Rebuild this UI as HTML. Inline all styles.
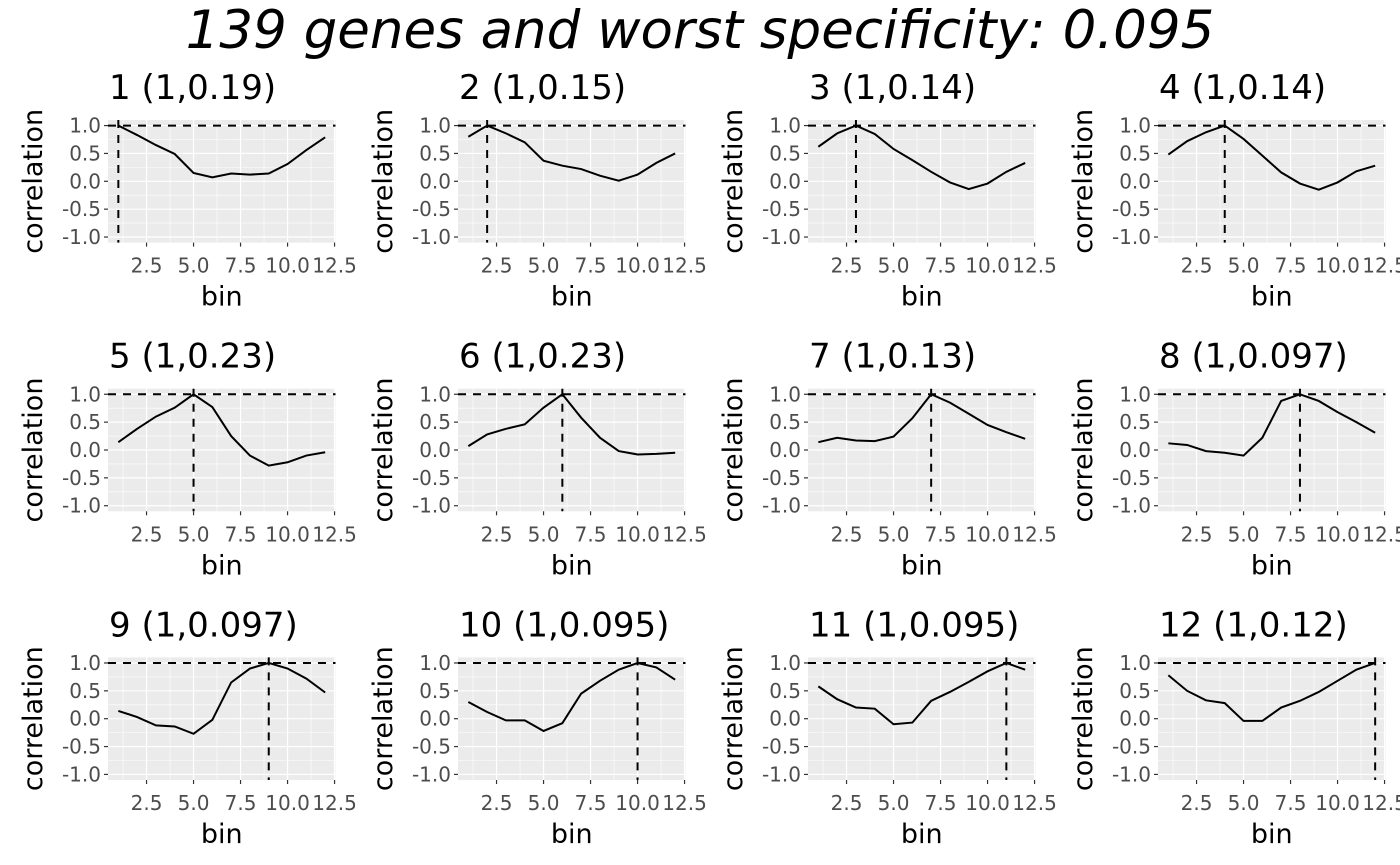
<!DOCTYPE html>
<html><head><meta charset="utf-8"><style>
body{margin:0;background:#fff;}
svg{display:block;font-family:"DejaVu Sans","Liberation Sans",sans-serif;}
</style></head><body>
<svg id="fig" width="1400" height="865" viewBox="0 0 1400 865" xmlns="http://www.w3.org/2000/svg">
<text x="700" y="48" text-anchor="middle" font-size="53" font-style="italic" fill="#000">139 genes and worst specificity: 0.095</text>
</svg>
<script>
const titles=["1 (1,0.19)","2 (1,0.15)","3 (1,0.14)","4 (1,0.14)","5 (1,0.23)","6 (1,0.23)","7 (1,0.13)","8 (1,0.097)","9 (1,0.097)","10 (1,0.095)","11 (1,0.095)","12 (1,0.12)"];
const bins=[1,2,3,4,5,6,7,8,9,10,11,12];
const peakBins=[1,2,3,4,5,6,7,8,9,10,11,12];
const s1=[1.0,0.83,0.65,0.49,0.15,0.07,0.14,0.12,0.14,0.31,0.56,0.79];
const s2=[0.8,1.0,0.86,0.7,0.37,0.28,0.22,0.1,0.01,0.12,0.33,0.5];
const s3=[0.62,0.86,1.0,0.85,0.58,0.38,0.17,-0.02,-0.14,-0.04,0.17,0.33];
const s4=[0.48,0.72,0.88,1.0,0.76,0.46,0.16,-0.04,-0.15,-0.02,0.18,0.28];
const s5=[0.14,0.38,0.6,0.76,1.0,0.77,0.25,-0.1,-0.28,-0.22,-0.1,-0.04];
const s6=[0.07,0.28,0.38,0.46,0.76,1.0,0.58,0.22,-0.02,-0.08,-0.07,-0.05];
const s7=[0.14,0.22,0.17,0.16,0.24,0.57,1.0,0.85,0.65,0.45,0.32,0.2];
const s8=[0.12,0.09,-0.02,-0.05,-0.1,0.22,0.88,1.0,0.88,0.68,0.5,0.31];
const s9=[0.14,0.03,-0.12,-0.14,-0.27,-0.02,0.65,0.9,1.0,0.9,0.72,0.47];
const s10=[0.3,0.12,-0.03,-0.03,-0.22,-0.08,0.45,0.68,0.88,1.0,0.92,0.7];
const s11=[0.58,0.35,0.2,0.18,-0.1,-0.07,0.32,0.48,0.66,0.85,1.0,0.88];
const s12=[0.78,0.5,0.33,0.28,-0.04,-0.04,0.2,0.32,0.48,0.68,0.88,1.0];
const series=[s1,s2,s3,s4,s5,s6,s7,s8,s9,s10,s11,s12];
const yTicks=[-1,-0.5,0,0.5,1];
const yTickLabels=["-1.0","-0.5","0.0","0.5","1.0"];
const xTicks=[2.5,5,7.5,10,12.5];
const xTickLabels=["2.5","5.0","7.5","10.0","12.5"];

const NS="http://www.w3.org/2000/svg";
const svg=document.getElementById('fig');
function mk(tag,attrs,parent){const e=document.createElementNS(NS,tag);for(const k in attrs)e.setAttribute(k,attrs[k]);(parent||svg).appendChild(e);return e;}
const W=227.5,H=122.6,X0=0.45,X1=12.55,Y0=-1.1,Y1=1.1;
series.forEach((vals,i)=>{
  const col=i%4,row=Math.floor(i/4);
  const L=108+col*350,T=120+row*268.7;
  const sx=v=>L+(v-X0)/(X1-X0)*W;
  const sy=v=>T+H-(v-Y0)/(Y1-Y0)*H;
  const g=mk('g',{});
  
  
  const bg=mk('rect',{x:L,y:T,width:W,height:H,fill:'#ebebeb'},g);
  
  
  [-0.75,-0.25,0.25,0.75].forEach(v=>mk('line',{x1:L,x2:L+W,y1:sy(v),y2:sy(v),stroke:'#fff','stroke-width':0.6},g));
  [1.25,3.75,6.25,8.75,11.25].forEach(v=>mk('line',{x1:sx(v),x2:sx(v),y1:T,y2:T+H,stroke:'#fff','stroke-width':0.6},g));
  yTicks.forEach((v,k)=>{
    mk('line',{x1:L,x2:L+W,y1:sy(v),y2:sy(v),stroke:'#fff','stroke-width':1.2},g);
    mk('line',{x1:L-4,x2:L,y1:sy(v),y2:sy(v),stroke:'#333','stroke-width':1.2},g);
    const t=mk('text',{x:L-7,y:sy(v)+7,'text-anchor':'end','font-size':20,fill:'#4d4d4d'},g);
    t.textContent=yTickLabels[k];
    
    
  });
  xTicks.forEach((v,k)=>{
    mk('line',{x1:sx(v),x2:sx(v),y1:T,y2:T+H,stroke:'#fff','stroke-width':1.2},g);
    mk('line',{x1:sx(v),x2:sx(v),y1:T+H,y2:T+H+4,stroke:'#333','stroke-width':1.2},g);
    const t=mk('text',{x:sx(v),y:T+H+30,'text-anchor':'middle','font-size':20,fill:'#4d4d4d'},g);
    t.textContent=xTickLabels[k];
    
    
  });
  const hl=mk('line',{x1:L,x2:L+W,y1:sy(1),y2:sy(1),stroke:'#000','stroke-width':2,'stroke-dasharray':'8,7'},g);
  
  
  const vl=mk('line',{x1:sx(peakBins[i]),x2:sx(peakBins[i]),y1:T,y2:T+H,stroke:'#000','stroke-width':2,'stroke-dasharray':'8,7'},g);
  
  
  const p=mk('polyline',{points:vals.map((v,k)=>sx(bins[k])+','+sy(v)).join(' '),fill:'none',stroke:'#000','stroke-width':2},g);
  
  
  const tt=mk('text',{x:L+1,y:T-21,'font-size':34,fill:'#000'},g);
  tt.textContent=titles[i];
  
  
  const xl=mk('text',{x:L+W/2,y:T+H+63,'text-anchor':'middle','font-size':27,fill:'#000'},g);
  xl.textContent='bin';
  
  
  const cy=T+H/2,cx=L-75;
  const yl=mk('text',{x:cx+9,y:cy,'text-anchor':'middle','font-size':27,fill:'#000',transform:'rotate(-90 '+(cx+9)+' '+cy+')'},g);
  yl.textContent='correlation';
  
  
});
</script>
</body></html>
